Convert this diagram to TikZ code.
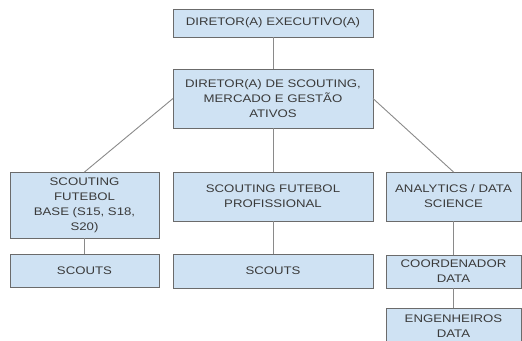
\documentclass[tikz,border=0pt]{standalone}
\usepackage{fontspec}
\setmainfont[FakeStretch=1.2]{Liberation Sans}
\usepackage{xcolor}
\definecolor{chartfill}{HTML}{CFE2F3}
\definecolor{chartline}{HTML}{6B6B6B}
\definecolor{chartlink}{HTML}{8A8A8A}
\definecolor{charttext}{HTML}{3A3A3A}

\tikzset{
  orgbox/.style={draw=chartline, fill=chartfill, text=charttext, line width=0.9pt,
    align=center, inner sep=0pt, outer sep=0pt,
    font=\fontsize{11}{15}\selectfont},
  orglink/.style={draw=chartlink, line width=0.9pt}
}

\begin{document}
\begin{tikzpicture}[x=1pt, y=1pt]
    \useasboundingbox (0,0) rectangle (522,-340);

    % Top of the chart
    \node[orgbox, minimum width=200, minimum height=28] (exec) at (273,-23) {DIRETOR(A) EXECUTIVO(A)};
    \node[orgbox, minimum width=200, minimum height=59] (dir) at (273,-98.5) {DIRETOR(A) DE SCOUTING,\\ MERCADO E GESTÃO\\ ATIVOS};

    % Three departments
    \node[orgbox, minimum width=149, minimum height=66] (base) at (84.5,-205) {SCOUTING\\ FUTEBOL\\ BASE (S15, S18,\\ S20)};
    \node[orgbox, minimum width=200, minimum height=49] (prof) at (273,-196.5) {SCOUTING FUTEBOL\\ PROFISSIONAL};
    \node[orgbox, minimum width=135, minimum height=49] (ana) at (453.5,-196.5) {ANALYTICS / DATA\\ SCIENCE};

    % Teams below
    \node[orgbox, minimum width=149, minimum height=33] (scoutsbase) at (84.5,-270.5) {SCOUTS};
    \node[orgbox, minimum width=200, minimum height=34] (scoutsprof) at (273,-271) {SCOUTS};
    \node[orgbox, minimum width=135, minimum height=33] (coord) at (453.5,-271.5) {COORDENADOR\\ DATA};
    \node[orgbox, minimum width=135, minimum height=37] (eng) at (453.5,-326.5) {ENGENHEIROS\\ DATA};

    % Links
    \draw[orglink] (exec.south) -- (dir.north);
    \draw[orglink] (dir.west) -- (base.north);
    \draw[orglink] (dir.south) -- (prof.north);
    \draw[orglink] (dir.east) -- (ana.north);
    \draw[orglink] (base.south) -- (scoutsbase.north);
    \draw[orglink] (prof.south) -- (scoutsprof.north);
    \draw[orglink] (ana.south) -- (coord.north);
    \draw[orglink] (coord.south) -- (eng.north);
\end{tikzpicture}
\end{document}
